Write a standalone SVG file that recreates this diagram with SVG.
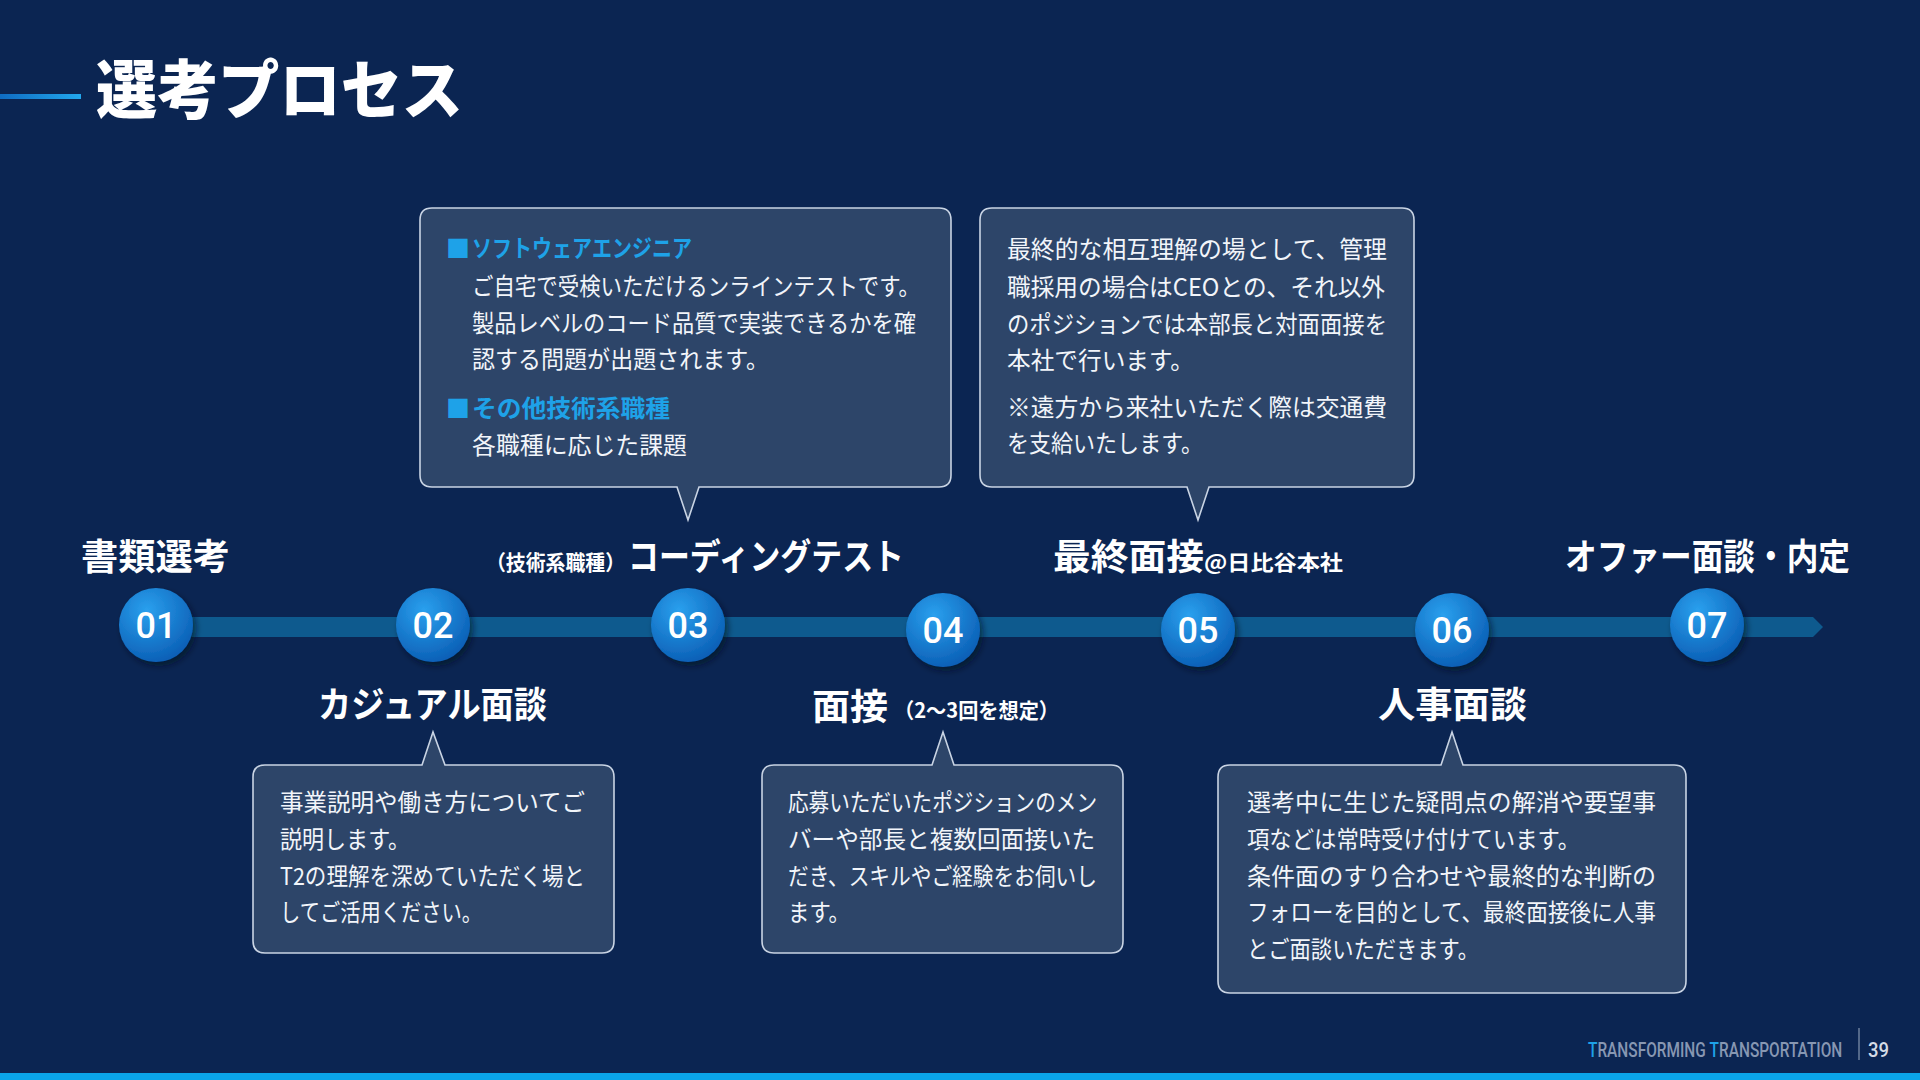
<svg xmlns="http://www.w3.org/2000/svg" width="1920" height="1080" viewBox="0 0 1920 1080">
<defs>
<style>
.bg{fill:#0b2552}
.call{fill:#2d4569;stroke:#c9d4e4;stroke-width:1.6}
.body{font-family:"Noto Sans CJK JP","Noto Sans",sans-serif;font-size:24px;font-weight:400;fill:#f2f5fa}
.head{font-family:"Noto Sans CJK JP","Noto Sans",sans-serif;font-size:24px;font-weight:700;fill:#1ea2e8}
.lbl{font-family:"Noto Sans CJK JP","Noto Sans",sans-serif;font-size:36px;font-weight:700;fill:#ffffff}
.lbls{font-family:"Noto Sans CJK JP","Noto Sans",sans-serif;font-size:21px;font-weight:700;fill:#ffffff}
.num{font-family:Roboto,"Liberation Sans",sans-serif;font-size:36px;font-weight:500;fill:#ffffff;text-anchor:middle}
.circ{fill:url(#cg);filter:url(#sh)}
.foot{font-family:Roboto,"Liberation Sans",sans-serif;font-size:20px;font-weight:500}
</style>
<radialGradient id="cg" cx="0.38" cy="0.3" r="0.75">
<stop offset="0" stop-color="#2aa0ee"/>
<stop offset="1" stop-color="#0a5db4"/>
</radialGradient>
<linearGradient id="tl" x1="0" y1="0" x2="1" y2="0">
<stop offset="0" stop-color="#0f6cc2"/>
<stop offset="1" stop-color="#22a8ee"/>
</linearGradient>
<filter id="sh" x="-30%" y="-30%" width="170%" height="170%">
<feDropShadow dx="3" dy="4" stdDeviation="3" flood-color="#020c24" flood-opacity="0.6"/>
</filter>
</defs>
<rect class="bg" x="0" y="0" width="1920" height="1080"/>

<g id="title">
<rect x="0" y="94" width="81" height="5" fill="url(#tl)"/>
<text x="96" y="113" font-family="'Noto Sans CJK JP',sans-serif" font-size="64" font-weight="900" fill="#ffffff" textLength="367" lengthAdjust="spacingAndGlyphs">選考プロセス</text>
</g>

<g id="connectors">
<path d="M156,617 H1813 L1823,627 L1813,637 H156 Z" fill="#0e5a8e"/>
</g>

<g id="step01">
<text class="lbl" x="81" y="570" textLength="149" lengthAdjust="spacingAndGlyphs">書類選考</text>
<circle class="circ" cx="156" cy="625" r="37"/>
<text class="num" x="156" y="638">01</text>
</g>

<g id="step02">
<circle class="circ" cx="433" cy="625" r="37"/>
<text class="num" x="433" y="638">02</text>
<text class="lbl" x="318" y="718" textLength="229" lengthAdjust="spacingAndGlyphs">カジュアル面談</text>
<path class="call" d="M265,765 H422 L433,732 L445,765 H602 Q614,765 614,777 V941 Q614,953 602,953 H265 Q253,953 253,941 V777 Q253,765 265,765 Z"/>
<text class="body" x="280" y="811" textLength="305" lengthAdjust="spacingAndGlyphs">事業説明や働き方についてご</text>
<text class="body" x="280" y="848" textLength="130" lengthAdjust="spacingAndGlyphs">説明します。</text>
<text class="body" x="280" y="885" textLength="305" lengthAdjust="spacingAndGlyphs">T2の理解を深めていただく場と</text>
<text class="body" x="280" y="921" textLength="202" lengthAdjust="spacingAndGlyphs">してご活用ください。</text>
</g>

<g id="step03">
<text class="lbls" x="486" y="570" textLength="139" lengthAdjust="spacingAndGlyphs">（技術系職種）</text>
<text class="lbl" x="628" y="570" textLength="276" lengthAdjust="spacingAndGlyphs">コーディングテスト</text>
<circle class="circ" cx="688" cy="625" r="37"/>
<text class="num" x="688" y="638">03</text>
<path class="call" d="M432,208 H939 Q951,208 951,220 V475 Q951,487 939,487 H699 L688,520 L677,487 H432 Q420,487 420,475 V220 Q420,208 432,208 Z"/>
<text class="head" x="446" y="257" font-size="20">■</text>
<text class="head" x="472" y="257" textLength="220" lengthAdjust="spacingAndGlyphs">ソフトウェアエンジニア</text>
<text class="body" x="472" y="295" textLength="448" lengthAdjust="spacingAndGlyphs">ご自宅で受検いただけるンラインテストです。</text>
<text class="body" x="472" y="332" textLength="444" lengthAdjust="spacingAndGlyphs">製品レベルのコード品質で実装できるかを確</text>
<text class="body" x="472" y="368" textLength="297" lengthAdjust="spacingAndGlyphs">認する問題が出題されます。</text>
<text class="head" x="446" y="417" font-size="20">■</text>
<text class="head" x="472" y="417" textLength="198" lengthAdjust="spacingAndGlyphs">その他技術系職種</text>
<text class="body" x="472" y="454" textLength="215" lengthAdjust="spacingAndGlyphs">各職種に応じた課題</text>
</g>

<g id="step04">
<circle class="circ" cx="943" cy="630" r="37"/>
<text class="num" x="943" y="643">04</text>
<text class="lbl" x="812" y="720" textLength="76" lengthAdjust="spacingAndGlyphs">面接</text>
<text class="lbls" x="894" y="718" textLength="165" lengthAdjust="spacingAndGlyphs">（2〜3回を想定）</text>
<path class="call" d="M774,765 H932 L943,732 L954,765 H1111 Q1123,765 1123,777 V941 Q1123,953 1111,953 H774 Q762,953 762,941 V777 Q762,765 774,765 Z"/>
<text class="body" x="788" y="811" textLength="309" lengthAdjust="spacingAndGlyphs">応募いただいたポジションのメン</text>
<text class="body" x="788" y="848" textLength="307" lengthAdjust="spacingAndGlyphs">バーや部長と複数回面接いた</text>
<text class="body" x="788" y="885" textLength="309" lengthAdjust="spacingAndGlyphs">だき、スキルやご経験をお伺いし</text>
<text class="body" x="788" y="921" textLength="62" lengthAdjust="spacingAndGlyphs">ます。</text>
</g>

<g id="step05">
<text class="lbl" x="1053" y="570" textLength="151" lengthAdjust="spacingAndGlyphs">最終面接</text>
<text class="lbls" x="1204" y="570" font-size="22" textLength="139" lengthAdjust="spacingAndGlyphs">@日比谷本社</text>
<circle class="circ" cx="1198" cy="630" r="37"/>
<text class="num" x="1198" y="643">05</text>
<path class="call" d="M992,208 H1402 Q1414,208 1414,220 V475 Q1414,487 1402,487 H1209 L1198,520 L1187,487 H992 Q980,487 980,475 V220 Q980,208 992,208 Z"/>
<text class="body" x="1007" y="258" textLength="380" lengthAdjust="spacingAndGlyphs">最終的な相互理解の場として、管理</text>
<text class="body" x="1007" y="296" textLength="378" lengthAdjust="spacingAndGlyphs">職採用の場合はCEOとの、それ以外</text>
<text class="body" x="1007" y="333" textLength="380" lengthAdjust="spacingAndGlyphs">のポジションでは本部長と対面面接を</text>
<text class="body" x="1007" y="369" textLength="187" lengthAdjust="spacingAndGlyphs">本社で行います。</text>
<text class="body" x="1007" y="416" textLength="380" lengthAdjust="spacingAndGlyphs">※遠方から来社いただく際は交通費</text>
<text class="body" x="1007" y="452" textLength="196" lengthAdjust="spacingAndGlyphs">を支給いたします。</text>
</g>

<g id="step06">
<circle class="circ" cx="1452" cy="630" r="37"/>
<text class="num" x="1452" y="643">06</text>
<text class="lbl" x="1378" y="718" textLength="149" lengthAdjust="spacingAndGlyphs">人事面談</text>
<path class="call" d="M1230,765 H1441 L1452,732 L1463,765 H1674 Q1686,765 1686,777 V981 Q1686,993 1674,993 H1230 Q1218,993 1218,981 V777 Q1218,765 1230,765 Z"/>
<text class="body" x="1247" y="811" textLength="409" lengthAdjust="spacingAndGlyphs">選考中に生じた疑問点の解消や要望事</text>
<text class="body" x="1247" y="848" textLength="333" lengthAdjust="spacingAndGlyphs">項などは常時受け付けています。</text>
<text class="body" x="1247" y="885" textLength="409" lengthAdjust="spacingAndGlyphs">条件面のすり合わせや最終的な判断の</text>
<text class="body" x="1247" y="921" textLength="409" lengthAdjust="spacingAndGlyphs">フォローを目的として、最終面接後に人事</text>
<text class="body" x="1247" y="958" textLength="232" lengthAdjust="spacingAndGlyphs">とご面談いただきます。</text>
</g>

<g id="step07">
<text class="lbl" x="1565" y="570" textLength="285" lengthAdjust="spacingAndGlyphs">オファー面談・内定</text>
<circle class="circ" cx="1707" cy="625" r="37"/>
<text class="num" x="1707" y="638">07</text>
</g>

<g id="footer">
<text class="foot" transform="translate(1588,1057) scale(0.75,1)" x="0" y="0" fill="#8797b2" textLength="339" lengthAdjust="spacingAndGlyphs"><tspan fill="#1ea2e8">T</tspan>RANSFORMING <tspan fill="#1ea2e8">T</tspan>RANSPORTATION</text>
<line x1="1859" y1="1028" x2="1859" y2="1060" stroke="#6d7f9c" stroke-width="1.5"/>
<text class="foot" x="1868" y="1057" fill="#d4dbe6" textLength="21" lengthAdjust="spacingAndGlyphs">39</text>
<rect x="0" y="1073" width="1920" height="7" fill="#0aa4e8"/>
</g>
</svg>
